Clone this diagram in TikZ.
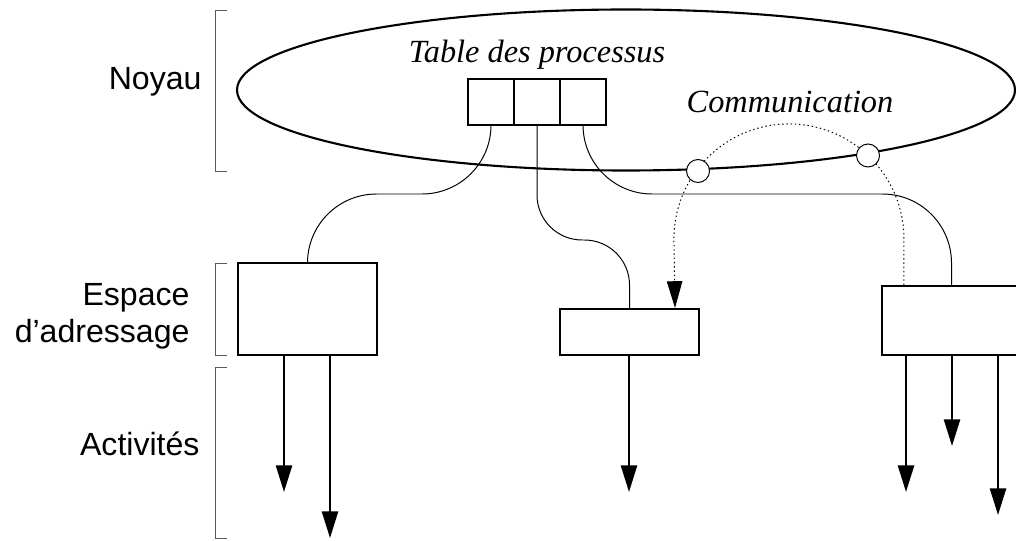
\documentclass[tikz,border=0pt]{standalone}
\usepackage{fontspec}
\setmainfont{Liberation Sans}
\newfontfamily\timesfont{Liberation Serif}
\usetikzlibrary{arrows.meta,calc,positioning}
\tikzset{every picture/.style={line width=0.75pt}}

\begin{document}
\begin{tikzpicture}[x=0.025cm, y=0.025cm,
    etiquette/.style={font=\fontsize{22.8}{26.3}\selectfont, inner sep=0pt},
    titre/.style={font=\fontsize{23}{26.3}\selectfont\timesfont\itshape},
    cellule/.style={draw, line width=1.5pt, minimum size=1.15cm, inner sep=0pt, outer sep=0pt},
    espace/.style={draw, line width=1.5pt, minimum width=3.475cm, inner sep=0pt},
    port/.style={draw, circle, fill=white, line width=0.7pt, minimum size=0.575cm, inner sep=0pt},
    lien/.style={line width=0.7pt},
    activite/.style={line width=1.5pt, -{Triangle[length=19pt, width=11.5pt]}},
    crochet/.style={gray!70!black, line width=0.7pt}]
    \useasboundingbox (0,0) rectangle (1016,540);

    % crochets a gauche
    \draw[crochet] (227,530) -- (215,530) -- (215,369) -- (227,369);
    \draw[crochet] (227,277) -- (215,277) -- (215,185) -- (227,185);
    \draw[crochet] (227,173) -- (215,173) -- (215,2) -- (227,2);
    \node[etiquette, anchor=base east] (noyau) at (202,450) {Noyau};
    \node[etiquette, anchor=base east, align=right] (adresse) at (190,198) {Espace\\d’adressage};
    \node[etiquette, anchor=base east] (activites) at (200,85) {Activités};

    % noyau et table des processus
    \draw[line width=1.5pt] (626,450) ellipse [x radius=389, y radius=80.5];
    \node[titre, anchor=base] (table) at (537,477) {Table des processus};
    \node[cellule] (cell1) at (491,438) {};
    \node[cellule, right=0pt of cell1] (cell2) {};
    \node[cellule, right=0pt of cell2] (cell3) {};
    \node[titre, anchor=base] (comm) at (790,427) {Communication};

    % espaces d'adressage
    \node[espace, minimum height=2.3cm] (boxA) at (307.5,231) {};
    \node[espace, minimum height=1.15cm] (boxB) at (629.5,208) {};
    \node[espace, minimum height=1.725cm] (boxC) at (951.5,219.5) {};

    % liens table -> espaces
    \draw[lien, rounded corners=1.725cm] (cell1.south) -- ++(0,-69) -| (boxA.north);
    \draw[lien, rounded corners=1.125cm] (cell2.south) -- ++(0,-115) -| (boxB.north);
    \draw[lien, rounded corners=1.725cm] (cell3.south) -- ++(0,-69) -| (boxC.north);

    % communication
    \draw[lien, dash pattern=on 1pt off 2pt, -{Triangle[length=19pt, width=11pt]}] ($(boxC.north west)+(23,0)$) -- ++(0,46)
        arc[start angle=0, end angle=180, radius=115] -- ($(boxB.north)+(45.5,0)$);
    \node[port] (port1) at (698,369) {};
    \node[port] (port2) at (868,384.5) {};

    % activites
    \coordinate (a1) at (284,48);
    \coordinate (a2) at (330,2);
    \coordinate (b1) at (629,48);
    \coordinate (c1) at (906,48);
    \coordinate (c2) at (952,94);
    \coordinate (c3) at (998,25);
    \foreach \a in {a1,a2} \draw[activite] (boxA.south -| \a) -- (\a);
    \draw[activite] (boxB.south -| b1) -- (b1);
    \foreach \c in {c1,c2,c3} \draw[activite] (boxC.south -| \c) -- (\c);
\end{tikzpicture}
\end{document}
